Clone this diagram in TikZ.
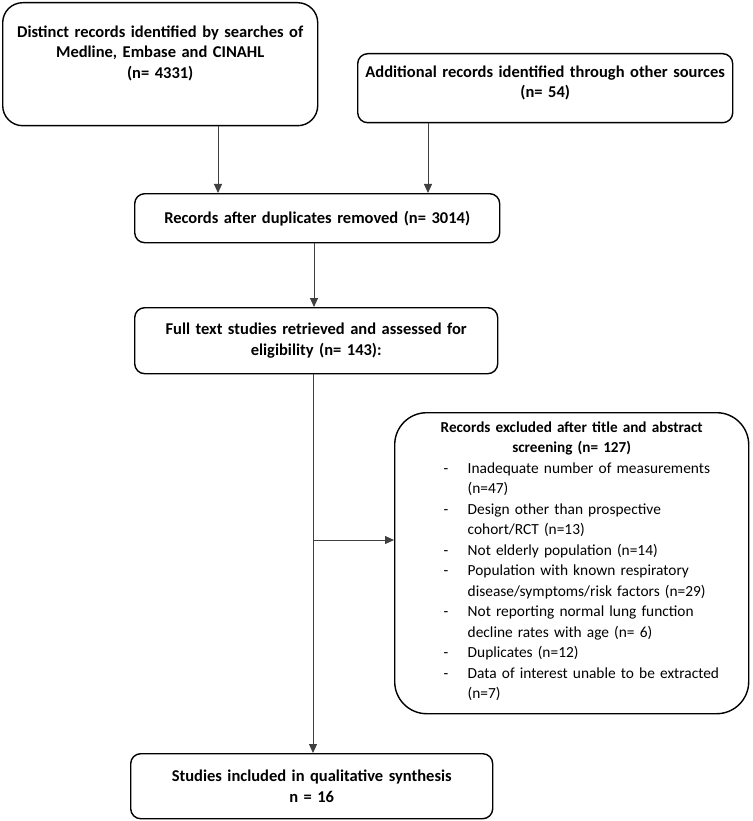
\documentclass[tikz,border=0pt]{standalone}
\usepackage{fontspec}
\setmainfont{Carlito}
\usetikzlibrary{arrows.meta}
\begin{document}
\begin{tikzpicture}[x=1pt,y=-1pt,
  box/.style={draw=black, line width=1.4pt, rounded corners=10pt, align=center,
    anchor=north west, inner sep=0pt, font=\fontsize{16.5}{20.5}\selectfont\bfseries},
  arr/.style={draw=black!75, line width=0.9pt, -{Triangle[length=9pt,width=8pt]}}]
\useasboundingbox (0,0) rectangle (752,821);
\node[box, rounded corners=20pt, minimum width=315pt, minimum height=123pt, text width=300pt] (b1) at (2,2)
  {Distinct records identified by searches of\\ Medline, Embase and CINAHL\\ (n= 4331)\\[4pt]\mbox{}};
\node[box, minimum width=375pt, minimum height=69pt, text width=360pt] (b2) at (357,53)
  {Additional records identified through other sources\\ (n= 54)\\[-8pt]\mbox{}};
\node[box, minimum width=365pt, minimum height=49pt, text width=350pt] (b3) at (134,193)
  {Records after duplicates removed (n= 3014)};
\node[box, minimum width=363pt, minimum height=66pt, text width=350pt] (b4) at (134,307)
  {Full text studies retrieved and assessed for\\ eligibility (n= 143):};
\node[box, minimum width=362pt, minimum height=65pt, text width=350pt] (b5) at (130,753)
  {Studies included in qualitative synthesis\\ n = 16};
\node[box, rounded corners=32pt, minimum width=354pt, minimum height=301pt, text width=310pt,
  align=left, font=\fontsize{15.4}{20.5}\selectfont] (b6) at (394,412)
  {{\fontsize{15.2}{20.5}\selectfont\bfseries\centering Records excluded after title and abstract\\ screening (n= 127)\par}
   \begin{tabular}[t]{@{\hspace{27pt}}p{24pt}@{}l@{}}
   - & Inadequate number of measurements\\
     & (n=47)\\
   - & Design other than prospective\\
     & cohort/RCT (n=13)\\
   - & Not elderly population (n=14)\\
   - & Population with known respiratory\\
     & disease/symptoms/risk factors (n=29)\\
   - & Not reporting normal lung function\\
     & decline rates with age (n= 6)\\
   - & Duplicates (n=12)\\
   - & Data of interest unable to be extracted\\
     & (n=7)
   \end{tabular}};
\coordinate (c1) at (218,0);
\coordinate (c2) at (428,0);
\coordinate (c3) at (314,0);
\coordinate (c4) at (313,540);
\draw[arr] (b1.south -| c1) -- (b3.north -| c1);
\draw[arr] (b2.south -| c2) -- (b3.north -| c2);
\draw[arr] (b3.south -| c3) -- (b4.north -| c3);
\draw[arr] (b4.south -| c4) -- (b5.north -| c4);
\draw[arr] (c4) -- (c4 -| b6.west);
\end{tikzpicture}
\end{document}
